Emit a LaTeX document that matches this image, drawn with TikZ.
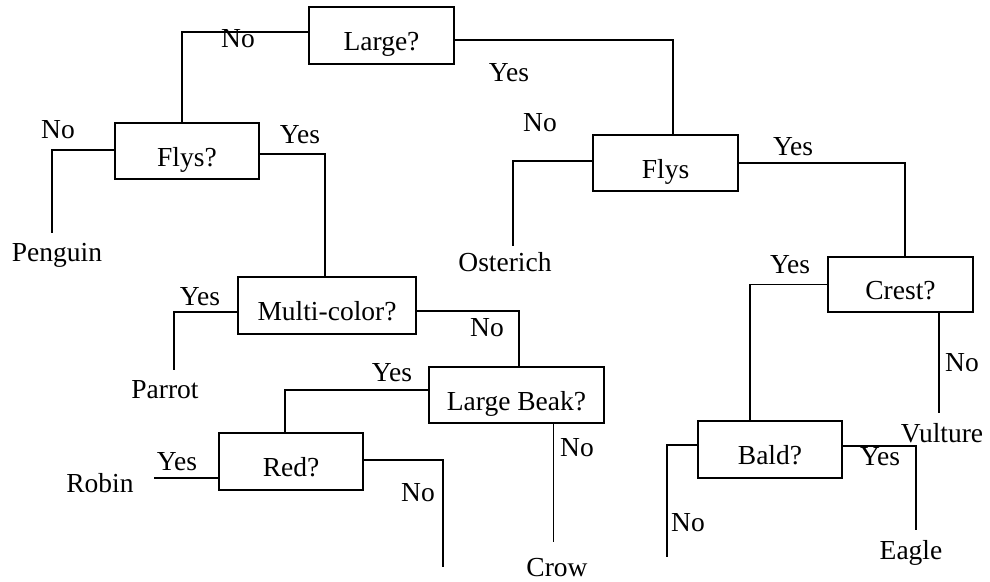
\documentclass[tikz,border=0pt]{standalone}
\usepackage{fontspec}
\setmainfont{Liberation Serif}
\begin{document}
\begin{tikzpicture}[x=1pt,y=-1pt,
  every node/.style={font=\fontsize{27.5}{31}\selectfont, inner sep=0pt},
  qbox/.style={draw, line width=1.2pt, minimum height=56pt, text height=30pt, text depth=0pt},
  lbl/.style={anchor=center},
  leaf/.style={anchor=north},
  conn/.style={line width=1.2pt}]
\useasboundingbox (0,0) rectangle (990,581);

% question boxes
\node[qbox, minimum width=145pt, minimum height=57pt] (large) at (381.5,35.5) {Large?};
\node[qbox, minimum width=144pt] (flysa) at (187,151) {Flys?};
\node[qbox, minimum width=145pt] (flysb) at (665.5,163) {Flys};
\node[qbox, minimum width=178pt, minimum height=57pt] (multi) at (327,305.5) {Multi-color?};
\node[qbox, minimum width=175pt] (beak) at (516.5,395) {Large Beak?};
\node[qbox, minimum width=144pt, minimum height=57pt] (red) at (291,461.5) {Red?};
\node[qbox, minimum width=145pt, minimum height=55pt] (crest) at (900.5,284.5) {Crest?};
\node[qbox, minimum width=144pt, minimum height=57pt] (bald) at (770,449.5) {Bald?};

% leaves
\node[leaf] (peng) at (57,243) {Penguin};
\node[leaf] (oster) at (505,252) {Osterich};
\node[leaf] (parrot) at (165,380) {Parrot};
\node[leaf] (robin) at (100,473) {Robin};
\node[leaf] (crow) at (557,558) {Crow};
\node[leaf] (vult) at (942,423) {Vulture};
\node[leaf] (eagle) at (911,540) {Eagle};

% free ends
\coordinate (robinend) at (154,478);
\coordinate (redend) at (443,567);
\coordinate (baldend) at (667,557);

% connectors
\draw[conn] ([yshift=3.5pt]large.west) -| ([xshift=-5pt]flysa.north);
\draw[conn] ([yshift=-4.5pt]large.east) -| ([xshift=7.5pt]flysb.north);
\draw[conn, shorten >=10pt] ([yshift=1pt]flysa.west) -| ([xshift=-5pt]peng.north);
\draw[conn] ([yshift=-3pt]flysa.east) -| ([xshift=-2pt]multi.north);
\draw[conn, shorten >=6pt] ([yshift=2pt]flysb.west) -| ([xshift=8pt]oster.north);
\draw[conn] (flysb.east) -| ([xshift=4.5pt]crest.north);
\draw[conn, shorten >=10pt] ([yshift=-6.5pt]multi.west) -| ([xshift=9pt]parrot.north);
\draw[conn] ([yshift=-5.5pt]multi.east) -| ([xshift=2.5pt]beak.north);
\draw[conn] ([yshift=5pt]beak.west) -| ([xshift=-6pt]red.north);
\draw[conn, shorten >=16pt] ([xshift=37pt]beak.south) -- ([xshift=-3.5pt]crow.north);
\draw[conn] (red.west |- robinend) -- (robinend);
\draw[conn] ([yshift=1.5pt]red.east) -| (redend);
\draw[conn] (crest.west) -| ([xshift=-20pt]bald.north);
\draw[conn, shorten >=10pt] ([xshift=38.5pt]crest.south) -- ([xshift=-3pt]vult.north);
\draw[conn, shorten >=10pt] ([yshift=3.5pt]bald.east) -| ([xshift=5pt]eagle.north);
\draw[conn] ([yshift=4.5pt]bald.west) -| (baldend);

% branch labels
\node[lbl] (l1) at (238,39) {No};
\node[lbl] (l2) at (509,73) {Yes};
\node[lbl] (l3) at (540,123) {No};
\node[lbl] (l4) at (58,130) {No};
\node[lbl] (l5) at (300,135) {Yes};
\node[lbl] (l6) at (793,147) {Yes};
\node[lbl] (l7) at (790,265) {Yes};
\node[lbl] (l8) at (200,297) {Yes};
\node[lbl] (l9) at (487,328) {No};
\node[lbl] (l10) at (962,363) {No};
\node[lbl] (l11) at (392,373) {Yes};
\node[lbl] (l12) at (577,448) {No};
\node[lbl] (l13) at (880,457) {Yes};
\node[lbl] (l14) at (177,462) {Yes};
\node[lbl] (l15) at (418,493) {No};
\node[lbl] (l16) at (688,523) {No};
\end{tikzpicture}
\end{document}
